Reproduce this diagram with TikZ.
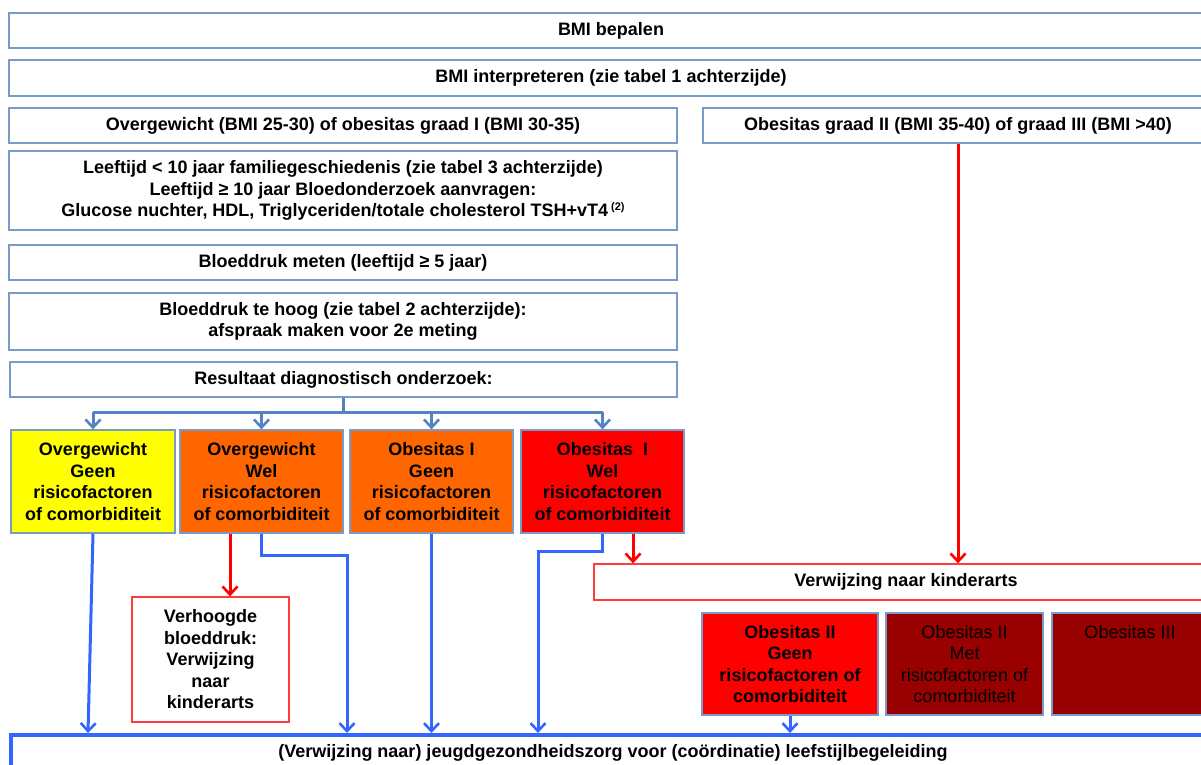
\documentclass[tikz,border=0pt]{standalone}
\usepackage{fontspec}
\setmainfont{Liberation Sans}
\usetikzlibrary{arrows.meta}
\definecolor{boxblue}{RGB}{120,155,200}
\definecolor{fanblue}{RGB}{84,130,195}
\definecolor{lineblue}{RGB}{51,102,255}
\definecolor{kindred}{RGB}{255,60,60}
\definecolor{orfill}{RGB}{255,102,0}
\definecolor{redfill}{RGB}{255,0,0}
\definecolor{darkfill}{RGB}{153,0,0}
\definecolor{yelfill}{RGB}{255,255,0}
\tikzset{
  txt/.style={font=\fontsize{18}{21.5}\selectfont\bfseries},
  box/.style={draw=boxblue, line width=1.3, inner sep=0pt, align=center, txt},
  redbox/.style={draw=kindred, line width=1.3, inner sep=0pt, align=center, txt},
  plain/.style={font=\fontsize{18}{21.5}\selectfont\mdseries},
  tip/.style={-{Straight Barb[length=8,width=15,line width=2.6]}},
  fan/.style={draw=fanblue, line width=3},
  conn/.style={draw=lineblue, line width=3},
  redc/.style={draw=redfill, line width=3},
}
\begin{document}
\begin{tikzpicture}[x=1pt,y=-1pt]
\useasboundingbox (0,0) rectangle (1201,765);
\clip (0,0) rectangle (1201,765);
% top boxes
\node[box, minimum width=1204, minimum height=35] (bmi) at (611,30.5) {BMI bepalen};
\node[box, minimum width=1204, minimum height=36] (interp) at (611,78) {BMI interpreteren (zie tabel 1 achterzijde)};
\node[box, minimum width=668, minimum height=35] (ovg) at (343,125.5) {Overgewicht (BMI 25-30) of obesitas graad I (BMI 30-35)};
\node[box, minimum width=510, minimum height=35] (ob2) at (958,125.5) {Obesitas graad II (BMI 35-40) of graad III (BMI >40)};
\node[box, minimum width=668, minimum height=79] (leef) at (343,190.5) {Leeftijd < 10 jaar familiegeschiedenis (zie tabel 3 achterzijde)\\Leeftijd ≥ 10 jaar Bloedonderzoek aanvragen:\\Glucose nuchter, HDL, Triglyceriden/totale cholesterol TSH+vT4\,\raisebox{6pt}{\fontsize{11}{11}\selectfont(2)}};
\node[box, minimum width=668, minimum height=35] (bd) at (343,262.5) {Bloeddruk meten (leeftijd ≥ 5 jaar)};
\node[box, minimum width=668, minimum height=57] (hoog) at (343,321.5) {Bloeddruk te hoog (zie tabel 2 achterzijde):\\afspraak maken voor 2e meting};
\node[box, minimum width=667, minimum height=35] (res) at (343.5,379.5) {Resultaat diagnostisch onderzoek:};
% coloured boxes
\node[box, fill=yelfill, minimum width=164, minimum height=103] (yel) at (93,481.5) {Overgewicht\\Geen\\risicofactoren\\of comorbiditeit};
\node[box, fill=orfill, minimum width=163, minimum height=103] (or1) at (261.5,481.5) {Overgewicht\\Wel\\risicofactoren\\of comorbiditeit};
\node[box, fill=orfill, minimum width=163, minimum height=103] (or2) at (431.5,481.5) {Obesitas I\\Geen\\risicofactoren\\of comorbiditeit};
\node[box, fill=redfill, minimum width=163, minimum height=103] (red) at (602.5,481.5) {Obesitas~~I\\Wel\\risicofactoren\\of comorbiditeit};
% referral boxes
\node[redbox, minimum width=157, minimum height=125] (verh) at (210.5,659.5) {Verhoogde\\bloeddruk:\\Verwijzing\\naar\\kinderarts};
\node[redbox, minimum width=624, minimum height=36] (kind) at (906,582) {Verwijzing naar kinderarts};
\node[box, fill=redfill, minimum width=176, minimum height=102] (o2g) at (790,664) {Obesitas II\\Geen\\risicofactoren of\\comorbiditeit};
\node[box, fill=darkfill, minimum width=157, minimum height=102, plain] (o2m) at (964.5,664) {Obesitas II\\Met\\risicofactoren of\\comorbiditeit};
\node[box, fill=darkfill, minimum width=156, minimum height=102, plain] (o3) at (1130,664) {Obesitas III\\~\\~\\~};
% bottom box
\node[draw=lineblue, line width=4, inner sep=0pt, txt, minimum width=1204, minimum height=36] (bot) at (613,753) {(Verwijzing naar) jeugdgezondheidszorg voor (coördinatie) leefstijlbegeleiding};
% fan from result
\coordinate (fj) at (344,412);
\draw[fan] (res.south) -- (res.south |- fj);
\draw[fan] (yel.north |- fj) -- (red.north |- fj);
\foreach \n in {yel,or1,or2,red}{
  \draw[fan,tip] (\n.north |- fj) -- (\n.north);
}
% blue connectors to bottom
\draw[conn,tip] (yel.south) -- ([xshift=-5]yel.south |- bot.north);
\draw[conn,tip] (or1.south) -- ++(0,22) -| ([xshift=338]bot.north west);
\draw[conn,tip] (or2.south) -- (or2.south |- bot.north);
\draw[conn,tip] (red.south) -- ++(0,18) -| ([xshift=529]bot.north west);
\draw[conn,tip] (o2g.south) -- (o2g.south |- bot.north);
% red connectors
\draw[redc,tip] ([xshift=-31.5]or1.south) -- ([xshift=-31.5]or1.south |- verh.north);
\draw[redc,tip] ([xshift=30.5]red.south) -- ([xshift=30.5]red.south |- kind.north);
\draw[redc,tip] (ob2.south) -- (ob2.south |- kind.north);
\end{tikzpicture}
\end{document}
